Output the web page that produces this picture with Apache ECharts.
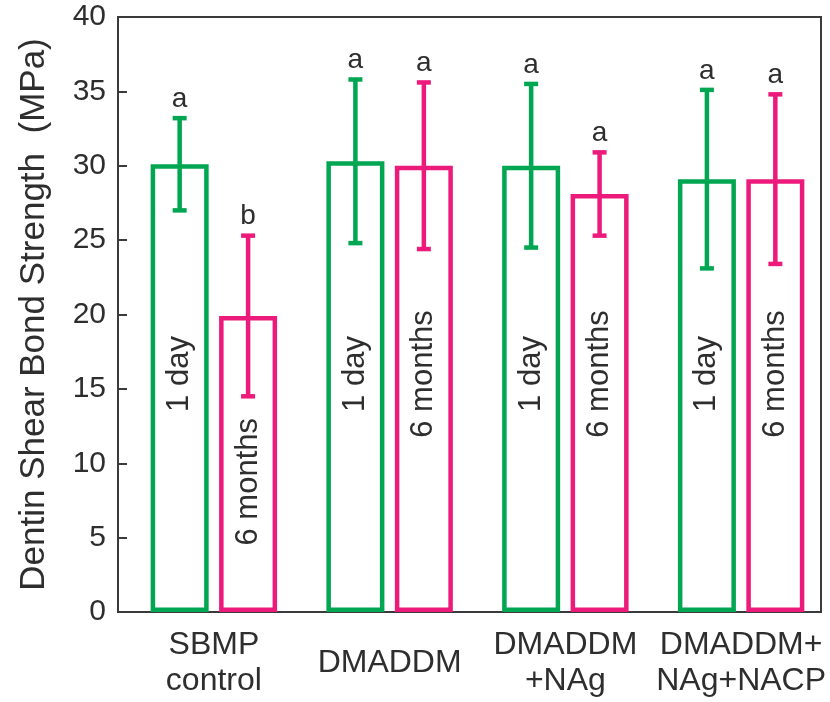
<!DOCTYPE html>
<html><head><meta charset="utf-8">
<script src="https://cdn.jsdelivr.net/npm/echarts@6/dist/echarts.min.js"></script>
<style>html,body{margin:0;padding:0;background:#fff}#c{width:830px;height:702px}</style>
</head><body><div id="c"></div>
<script>
const categories = ['SBMP\ncontrol', 'DMADDM', 'DMADDM\n+NAg', 'DMADDM+\nNAg+NACP'];
const seriesNames = ['1 day', '6 months'];
const oneDayMean = [30.1, 30.3, 30.0, 29.1];
const oneDaySD = [3.1, 5.5, 5.5, 6.0];
const oneDayLetters = ['a', 'a', 'a', 'a'];
const sixMonthMean = [19.9, 30.0, 28.1, 29.1];
const sixMonthSD = [5.4, 5.6, 2.8, 5.7];
const sixMonthLetters = ['b', 'a', 'a', 'a'];
const yAxisTitle = 'Dentin Shear Bond Strength  (MPa)';

const FONT = 'Liberation Sans, Arial, Helvetica, sans-serif';
const TEXT = '#2e2e2e';
const GREEN = '#00a651';
const MAGENTA = '#ec1a7b';
const BAR_W = 58;
const GAP = 0.18;
const OFFSET = BAR_W * (1 + GAP) / 2;
const LW = 4.5;

function makeRender(sign, color, name, letters) {
  return function (params, api) {
    const i = api.value(0), m = api.value(1), sd = api.value(2);
    const x = api.coord([i, m])[0] + sign * OFFSET;
    const yTop = api.coord([i, m + sd])[1];
    const yBot = api.coord([i, m - sd])[1];
    const labelVal = m >= 25 ? 16 : m * 0.44;
    const yLab = api.coord([i, labelVal])[1];
    const ls = { stroke: color, lineWidth: LW };
    return {
      type: 'group',
      children: [
        { type: 'line', shape: { x1: x, y1: yTop, x2: x, y2: yBot }, style: ls },
        { type: 'line', shape: { x1: x - 7, y1: yTop, x2: x + 7, y2: yTop }, style: ls },
        { type: 'line', shape: { x1: x - 7, y1: yBot, x2: x + 7, y2: yBot }, style: ls },
        { type: 'text', x: x, y: yTop - 5,
          style: { text: letters[params.dataIndex], fill: TEXT, fontSize: 28, fontFamily: FONT,
                   align: 'center', textAlign: 'center', verticalAlign: 'bottom', textVerticalAlign: 'bottom' } },
        { type: 'text', x: x, y: yLab, rotation: Math.PI / 2,
          style: { text: name, fill: TEXT, fontSize: 31, fontFamily: FONT,
                   align: 'center', textAlign: 'center', verticalAlign: 'middle', textVerticalAlign: 'middle' } }
      ]
    };
  };
}

const chart = echarts.init(document.getElementById('c'), null, { renderer: 'canvas' });
chart.setOption({
  animation: false,
  backgroundColor: '#fff',
  textStyle: { fontFamily: FONT },
  grid: [
    { left: 118, right: 9, top: 17, bottom: 90, show: true, borderColor: '#3a3a3a', borderWidth: 2, backgroundColor: 'transparent' },
    { left: 126, right: 1, top: 17, bottom: 90 }
  ],
  xAxis: [
    { type: 'value', gridIndex: 0, min: 0, max: 1, show: false },
    { type: 'category', gridIndex: 1, data: categories,
      axisLine: { show: false }, axisTick: { show: false },
      axisLabel: { interval: 0, fontSize: 32, lineHeight: 36, color: TEXT, margin: 51, verticalAlign: 'middle', fontFamily: FONT } }
  ],
  yAxis: [
    { type: 'value', gridIndex: 0, min: 0, max: 40, interval: 5,
      axisLine: { show: true, lineStyle: { color: '#3a3a3a', width: 2 } },
      axisTick: { show: true, inside: true, length: 9, lineStyle: { color: '#3a3a3a', width: 2 } },
      axisLabel: { fontSize: 30, color: TEXT, margin: 12, fontFamily: FONT },
      splitLine: { show: false },
      name: yAxisTitle, nameLocation: 'middle', nameGap: 66,
      nameTextStyle: { fontSize: 35, color: TEXT, fontFamily: FONT } },
    { type: 'value', gridIndex: 1, min: 0, max: 40, interval: 5, show: false }
  ],
  series: [
    { name: seriesNames[0], type: 'bar', xAxisIndex: 1, yAxisIndex: 1, data: oneDayMean,
      barWidth: BAR_W, barGap: (GAP * 100) + '%',
      itemStyle: { color: 'rgba(255,255,255,0)', borderColor: GREEN, borderWidth: LW } },
    { name: seriesNames[1], type: 'bar', xAxisIndex: 1, yAxisIndex: 1, data: sixMonthMean,
      barWidth: BAR_W, barGap: (GAP * 100) + '%',
      itemStyle: { color: 'rgba(255,255,255,0)', borderColor: MAGENTA, borderWidth: LW } },
    { type: 'custom', xAxisIndex: 1, yAxisIndex: 1, z: 5,
      data: oneDayMean.map((v, i) => [i, v, oneDaySD[i]]),
      renderItem: makeRender(-1, GREEN, seriesNames[0], oneDayLetters) },
    { type: 'custom', xAxisIndex: 1, yAxisIndex: 1, z: 5,
      data: sixMonthMean.map((v, i) => [i, v, sixMonthSD[i]]),
      renderItem: makeRender(1, MAGENTA, seriesNames[1], sixMonthLetters) }
  ]
});
</script>
</body></html>
